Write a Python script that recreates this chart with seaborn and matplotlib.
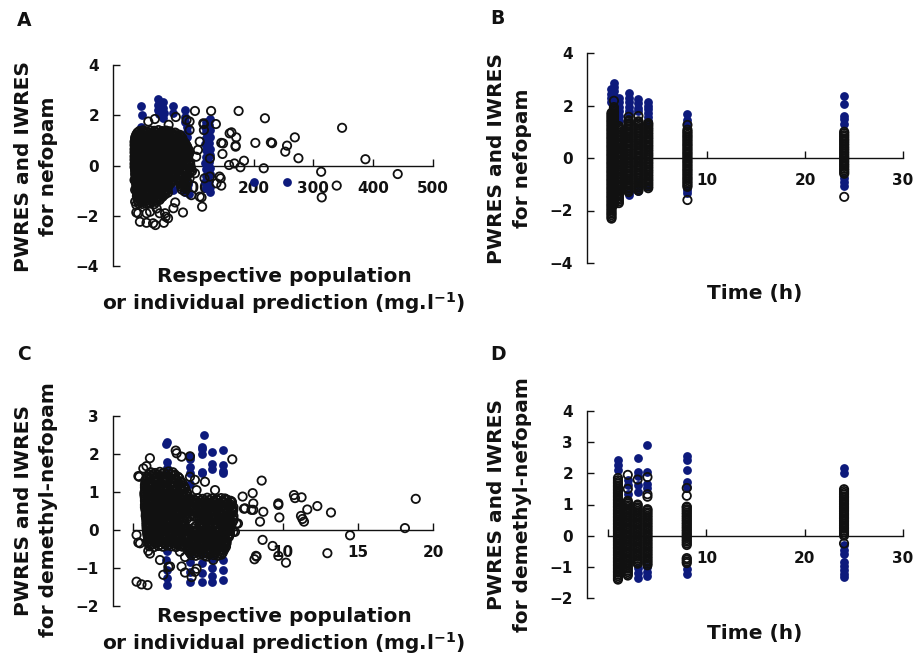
import matplotlib
matplotlib.use("Agg")
import matplotlib.pyplot as plt
import pandas as pd
import seaborn as sns

# ---------------------------------------------------------------------------
# Nefopam: weighted residuals against predicted concentration (mg/l)
# PWRES vs population prediction (filled navy), IWRES vs individual prediction (open)
# ---------------------------------------------------------------------------
nef_pred = [12, 13, 12, 10, 40, 41, 40, 42, 49, 48,
            50, 49, 66, 65, 85, 86, 85, 88, 89, 88,
            65, 62, 85, 88, 90, 92, 120, 119, 121, 120,
            119, 121, 120, 119, 121, 120, 119, 121, 127, 126,
            128, 127, 126, 128, 127, 126, 128, 127, 126, 128,
            127, 200, 256]
nef_pwres = [2.37, 2.01, 1.55, 1.30, 2.64, 2.42, 2.20, 2.05, 2.54, 2.30,
             2.10, 1.88, 2.37, 2.10, 2.21, 1.95, 1.72, 1.55, 1.35, 1.15,
             -0.98, -0.85, -1.05, -0.90, -0.75, -1.15, 1.75, 1.55, 1.35, 1.10,
             0.85, 0.60, 0.35, 0.10, -0.15, -0.40, -0.65, -0.90, 1.85, 1.62,
             1.40, 1.15, 0.90, 0.65, 0.40, 0.15, -0.10, -0.35, -0.60, -0.85,
             -1.05, -0.65, -0.65]

nef_ipred = [
    9, 15, 21, 28, 34, 41, 47, 54, 60,
    4, 8, 14, 20, 27, 33, 40, 46, 53, 59, 66, 72, 77,
    2, 6, 11, 17, 24, 30, 37, 43, 50, 56, 63, 69, 75, 81,
    1, 4, 9, 14, 21, 27, 34, 40, 47, 53, 60, 66, 72, 78, 84,
    1, 3, 7, 12, 18, 25, 31, 38, 44, 51, 57, 64, 70, 76, 82, 88,
    1, 4, 9, 15, 21, 28, 34, 41, 47, 54, 60, 67, 73, 79, 85, 90,
    1, 3, 7, 12, 18, 25, 31, 38, 44, 51, 57, 64, 70, 76, 82, 88, 93,
    1, 4, 9, 15, 21, 28, 34, 41, 47, 54, 60, 67, 73, 79, 85, 91,
    1, 3, 7, 12, 18, 25, 31, 38, 44, 51, 57, 64, 70, 76, 82, 89,
    1, 4, 9, 15, 21, 28, 34, 41, 47, 54, 60, 67, 73, 79, 86, 93,
    1, 3, 7, 12, 18, 25, 31, 38, 44, 51, 57, 64, 70, 77, 84, 95,
    2, 4, 9, 15, 21, 28, 34, 41, 47, 54, 60, 67, 73, 80, 97,
    2, 5, 11, 17, 24, 30, 37, 43, 50, 56, 63, 69, 76, 90,
    3, 7, 13, 20, 26, 33, 39, 46, 52, 59, 65, 78, 86,
    3, 5, 10, 16, 23, 29, 36, 42, 49, 55, 62, 75, 82, 89,
    4, 7, 13, 19, 26, 32, 39, 45, 52, 58, 78, 86,
    4, 6, 10, 16, 23, 29, 36, 42, 49, 55, 80, 87,
    5, 8, 13, 19, 26, 32, 39, 45, 52, 57,
    5, 10, 16, 22, 29, 35, 42, 48,
    6, 11, 17, 24, 30, 37, 43,
    8, 14, 21, 27, 34,
    102, 129, 175, 219, 348, 70, 35, 93, 117, 137,
    163, 171, 170, 269, 256, 253, 229, 231, 203, 146,
    148, 184, 159, 168, 178, 275, 387, 313, 441, 339,
    314, 217, 145, 146, 113, 114, 82, 69, 53, 50,
    36, 10, 4, 21, 43, 2, 38, 88, 93, 116,
    117, 160, 149, 170, 110, 107, 104, 127, 102, 93,
    118, 127, 143, 138, 110, 85, 96, 52, 7, 21,
    32, 57, 2, 1, 4, 27, 66, 24, 58]
nef_iwres = [
    1.37, 1.40, 1.36, 1.39, 1.38, 1.41, 1.37, 1.39, 1.36,
    1.23, 1.25, 1.22, 1.26, 1.24, 1.23, 1.25, 1.22, 1.26, 1.24, 1.23, 1.25, 1.22,
    1.10, 1.08, 1.11, 1.09, 1.07, 1.10, 1.08, 1.11, 1.09, 1.07, 1.10, 1.08, 1.11, 1.09,
    0.94, 0.96, 0.95, 0.93, 0.97, 0.95, 0.94, 0.96, 0.93, 0.95, 0.97, 0.94, 0.96, 0.95, 0.93,
    0.81, 0.79, 0.80, 0.82, 0.78, 0.81, 0.80, 0.79, 0.82, 0.80, 0.78, 0.81, 0.79, 0.80, 0.82, 0.79,
    0.65, 0.67, 0.66, 0.64, 0.68, 0.65, 0.66, 0.67, 0.64, 0.66, 0.68, 0.65, 0.67, 0.64, 0.66, 0.67,
    0.52, 0.50, 0.51, 0.53, 0.49, 0.51, 0.52, 0.50, 0.53, 0.51, 0.49, 0.52, 0.50, 0.51, 0.53, 0.50, 0.52,
    0.36, 0.38, 0.37, 0.35, 0.39, 0.36, 0.37, 0.38, 0.35, 0.37, 0.39, 0.36, 0.38, 0.35, 0.37, 0.38,
    0.23, 0.21, 0.22, 0.24, 0.20, 0.22, 0.23, 0.21, 0.24, 0.22, 0.20, 0.23, 0.21, 0.22, 0.24, 0.21,
    0.07, 0.09, 0.08, 0.06, 0.10, 0.07, 0.08, 0.09, 0.06, 0.08, 0.10, 0.07, 0.09, 0.06, 0.08, 0.09,
    -0.06, -0.08, -0.07, -0.05, -0.09, -0.06, -0.07, -0.08, -0.05, -0.07, -0.09, -0.06, -0.08, -0.05, -0.07, -0.08,
    -0.22, -0.20, -0.21, -0.23, -0.19, -0.22, -0.21, -0.20, -0.23, -0.21, -0.19, -0.22, -0.20, -0.21, -0.23,
    -0.35, -0.37, -0.36, -0.34, -0.38, -0.35, -0.36, -0.37, -0.34, -0.36, -0.38, -0.35, -0.37, -0.36,
    -0.51, -0.49, -0.50, -0.52, -0.48, -0.51, -0.50, -0.49, -0.52, -0.50, -0.48, -0.51, -0.49,
    -0.64, -0.66, -0.65, -0.63, -0.67, -0.64, -0.65, -0.66, -0.63, -0.65, -0.67, -0.64, -0.66, -0.65,
    -0.80, -0.78, -0.79, -0.81, -0.77, -0.80, -0.79, -0.78, -0.81, -0.79, -0.77, -0.80,
    -0.93, -0.95, -0.94, -0.92, -0.96, -0.93, -0.94, -0.95, -0.92, -0.94, -0.96, -0.93,
    -1.09, -1.07, -1.08, -1.10, -1.06, -1.09, -1.08, -1.07, -1.10, -1.08,
    -1.22, -1.24, -1.23, -1.21, -1.25, -1.22, -1.23, -1.24,
    -1.38, -1.36, -1.37, -1.39, -1.35, -1.38, -1.37,
    -1.51, -1.53, -1.52, -1.50, -1.54,
    2.17, 2.17, 2.17, 1.88, 1.50, 1.93, 1.85, 1.75, 1.65, 1.65,
    1.32, 1.12, 0.79, 1.12, 0.79, 0.55, 0.92, 0.89, 0.90, 0.90,
    0.46, 0.19, 0.02, 0.08, -0.07, 0.29, 0.25, -0.25, -0.34, -0.80,
    -1.27, -0.11, -0.51, -0.80, -1.27, -1.64, -1.87, -1.47, -2.04, -2.28,
    -2.37, -2.24, -1.87, -1.90, -1.90, -1.44, -1.71, 1.81, 1.41, 1.68,
    1.41, 1.28, 0.88, 0.75, 0.95, 0.62, 0.35, 0.28, -0.31, -0.51,
    -0.51, -0.44, -0.44, -0.71, -1.24, -1.04, -1.18, -1.90, -1.90, -2.28,
    -2.30, -2.10, -0.97, -0.58, -1.57, -1.84, -1.70, 1.75, 1.62]

# second set of IWRES observations in the crowded low-concentration range
nef_ipred_low = [
    6, 12, 18, 24, 31, 37, 44, 50, 57, 63, 69,
    3, 8, 13, 19, 26, 32, 39, 45, 52, 58, 65, 71, 78,
    2, 5, 10, 16, 22, 29, 35, 42, 48, 55, 61, 68, 74, 80,
    2, 6, 11, 17, 24, 30, 37, 43, 50, 56, 63, 69, 75, 81, 86,
    2, 5, 10, 15, 22, 28, 35, 41, 48, 54, 61, 67, 73, 79, 85, 89,
    2, 6, 12, 18, 24, 31, 37, 44, 50, 57, 63, 70, 76, 82, 88, 92,
    2, 5, 10, 15, 22, 28, 35, 41, 48, 54, 61, 67, 73, 79, 86, 91,
    2, 6, 12, 18, 24, 31, 37, 44, 50, 57, 63, 70, 76, 82, 88,
    2, 5, 10, 15, 22, 28, 35, 41, 48, 54, 61, 67, 73, 80, 87, 92,
    2, 6, 12, 18, 24, 31, 37, 44, 50, 57, 63, 70, 76, 82, 89, 94,
    2, 5, 10, 15, 22, 28, 35, 41, 48, 54, 61, 67, 74, 81, 88, 96,
    3, 7, 13, 19, 25, 32, 38, 45, 51, 58, 64, 70, 77, 86, 93,
    3, 6, 10, 16, 22, 29, 35, 42, 48, 55, 61, 67, 82, 88,
    4, 8, 14, 20, 27, 33, 40, 46, 53, 59, 64, 76, 83, 88,
    4, 6, 11, 17, 24, 30, 37, 43, 50, 56, 61, 77, 84, 89,
    5, 9, 15, 21, 28, 34, 41, 47, 53, 57, 79, 86,
    5, 7, 12, 18, 24, 31, 37, 44, 50, 56,
    6, 9, 14, 21, 27, 34, 40, 47, 52,
    7, 13, 19, 26, 32, 39, 45,
    8, 12, 18, 25, 31, 37]
nef_iwres_low = [
    1.31, 1.30, 1.32, 1.31, 1.29, 1.32, 1.30, 1.31, 1.33, 1.30, 1.31,
    1.16, 1.17, 1.15, 1.18, 1.16, 1.17, 1.15, 1.18, 1.16, 1.17, 1.15, 1.18, 1.16,
    1.02, 1.01, 1.03, 1.02, 1.00, 1.03, 1.01, 1.02, 1.04, 1.01, 1.02, 1.00, 1.03, 1.02,
    0.88, 0.87, 0.89, 0.86, 0.88, 0.87, 0.89, 0.86, 0.88, 0.87, 0.89, 0.86, 0.88, 0.87, 0.88,
    0.73, 0.72, 0.74, 0.73, 0.71, 0.74, 0.72, 0.73, 0.75, 0.72, 0.73, 0.71, 0.74, 0.72, 0.73, 0.74,
    0.58, 0.59, 0.57, 0.60, 0.58, 0.59, 0.57, 0.60, 0.58, 0.59, 0.57, 0.60, 0.58, 0.59, 0.57, 0.60,
    0.44, 0.43, 0.45, 0.44, 0.42, 0.45, 0.43, 0.44, 0.46, 0.43, 0.44, 0.42, 0.45, 0.43, 0.44, 0.45,
    0.29, 0.30, 0.28, 0.31, 0.29, 0.30, 0.28, 0.31, 0.29, 0.30, 0.28, 0.31, 0.29, 0.30, 0.29,
    0.15, 0.14, 0.16, 0.15, 0.13, 0.16, 0.14, 0.15, 0.17, 0.14, 0.15, 0.13, 0.16, 0.14, 0.15, 0.16,
    0.00, 0.01, -0.01, 0.02, 0.00, 0.01, -0.01, 0.02, 0.00, 0.01, -0.01, 0.02, 0.00, 0.01, -0.01, 0.01,
    -0.14, -0.13, -0.15, -0.14, -0.12, -0.15, -0.13, -0.14, -0.16, -0.13, -0.14, -0.12, -0.15, -0.13, -0.14, -0.15,
    -0.28, -0.29, -0.27, -0.30, -0.28, -0.29, -0.27, -0.30, -0.28, -0.29, -0.27, -0.30, -0.28, -0.29, -0.28,
    -0.43, -0.42, -0.44, -0.43, -0.41, -0.44, -0.42, -0.43, -0.45, -0.42, -0.43, -0.41, -0.44, -0.43,
    -0.57, -0.58, -0.56, -0.59, -0.57, -0.58, -0.56, -0.59, -0.57, -0.58, -0.56, -0.59, -0.57, -0.58,
    -0.72, -0.71, -0.73, -0.72, -0.70, -0.73, -0.71, -0.72, -0.74, -0.71, -0.72, -0.70, -0.73, -0.72,
    -0.86, -0.87, -0.85, -0.88, -0.86, -0.87, -0.85, -0.88, -0.86, -0.87, -0.85, -0.87,
    -1.01, -1.00, -1.02, -1.01, -0.99, -1.02, -1.00, -1.01, -1.03, -1.00,
    -1.15, -1.16, -1.14, -1.17, -1.15, -1.16, -1.14, -1.17, -1.15,
    -1.30, -1.29, -1.31, -1.30, -1.28, -1.31, -1.29,
    -1.44, -1.45, -1.43, -1.46, -1.44, -1.45]

# ---------------------------------------------------------------------------
# Nefopam: weighted residuals against sampling time (h)
# ---------------------------------------------------------------------------
nef_times = [0.25, 0.5, 1, 2, 3, 4, 8, 24]
nef_pw_t025 = [2.62, 2.45, 2.30, 2.12]
nef_pw_t05 = [2.85, 2.72, 2.55, 2.38, 2.22, 2.05]
nef_pw_t1 = [2.28, 2.12, 1.95, 1.78, 1.60, 1.42]
nef_pw_t2 = [2.47, 2.30, 2.12, 1.95, 1.80, 1.68, -1.30, -1.40]
nef_pw_t3 = [2.25, 2.08, 1.92, 1.78, -0.95, -1.10, -1.27]
nef_pw_t4 = [2.15, 2.00, 1.85, 1.70, 1.55, 1.42, -1.05]
nef_pw_t8 = [1.68, 1.45, 1.28, -1.20, -1.32]
nef_pw_t24 = [2.38, 2.05, 1.60, 1.48, 1.30, -0.78, -0.92, -1.05]

nef_iw_t025 = [-2.31, -2.25, -2.18, -2.12, -2.06, -1.99, -1.93, -1.86, -1.80, -1.74,
               -1.67, -1.61, -1.54, -1.48, -1.42, -1.35, -1.29, -1.22, -1.16, -1.10,
               -1.03, -0.97, -0.90, -0.84, -0.78, -0.71, -0.65, -0.58, -0.52, -0.46,
               -0.39, -0.33, -0.26, -0.20, -0.14, -0.07, -0.01, 0.06, 0.12, 0.18,
               0.25, 0.31, 0.38, 0.44, 0.50, 0.57, 0.63, 0.70, 0.76, 0.82,
               0.89, 0.95, 1.02, 1.08, 1.14, 1.21, 1.27, 1.34, 1.40, 1.46,
               1.53, 1.59, 1.66, 1.72]
nef_iw_t05 = [-1.77, -1.71, -1.64, -1.58, -1.51, -1.45, -1.39, -1.32, -1.26, -1.19,
              -1.13, -1.07, -1.00, -0.94, -0.87, -0.81, -0.75, -0.68, -0.62, -0.55,
              -0.49, -0.43, -0.36, -0.30, -0.23, -0.17, -0.11, -0.04, 0.02, 0.09,
              0.15, 0.21, 0.28, 0.34, 0.41, 0.47, 0.53, 0.60, 0.66, 0.73,
              0.79, 0.85, 0.92, 0.98, 1.05, 1.11, 1.17, 1.24, 1.30, 1.37,
              1.43, 1.49, 1.56, 1.62, 1.69, 1.75, 1.81, 1.88, 1.94, 2.18]
nef_iw_t1 = [-1.72, -1.66, -1.59, -1.53, -1.46, -1.40, -1.34, -1.27, -1.21, -1.14,
             -1.08, -1.02, -0.95, -0.89, -0.82, -0.76, -0.70, -0.63, -0.57, -0.50,
             -0.44, -0.38, -0.31, -0.25, -0.18, -0.12, -0.06, 0.01, 0.07, 0.14,
             0.20, 0.26, 0.33, 0.39, 0.46, 0.52, 0.58, 0.65, 0.71, 0.78,
             0.84, 0.90, 0.97, 1.03, 1.10, 1.16, 1.22]
nef_iw_t2 = [-1.30, -1.24, -1.17, -1.11, -1.04, -0.98, -0.92, -0.85, -0.79, -0.72,
             -0.66, -0.60, -0.53, -0.47, -0.40, -0.34, -0.28, -0.21, -0.15, -0.08,
             -0.02, 0.04, 0.11, 0.17, 0.24, 0.30, 0.36, 0.43, 0.49, 0.56,
             0.62, 0.68, 0.75, 0.81, 0.88, 0.94, 1.00, 1.07, 1.13, 1.20,
             1.26, 1.32, 1.39, 1.44, 1.57]
nef_iw_t3 = [-1.25, -1.19, -1.12, -1.06, -0.99, -0.93, -0.87, -0.80, -0.74, -0.67,
             -0.61, -0.55, -0.48, -0.42, -0.35, -0.29, -0.23, -0.16, -0.10, -0.03,
             0.03, 0.09, 0.16, 0.22, 0.29, 0.35, 0.41, 0.48, 0.54, 0.61,
             0.67, 0.73, 0.80, 0.86, 0.93, 0.99, 1.05, 1.12, 1.18, 1.25,
             1.31, 1.37, 1.40, 1.60]
nef_iw_t4 = [-1.15, -1.09, -1.02, -0.96, -0.89, -0.83, -0.77, -0.70, -0.64, -0.57,
             -0.51, -0.45, -0.38, -0.32, -0.25, -0.19, -0.13, -0.06, 0.00, 0.07,
             0.13, 0.19, 0.26, 0.32, 0.39, 0.45, 0.51, 0.58, 0.64, 0.71,
             0.77, 0.83, 0.90, 0.96, 1.03, 1.09, 1.15, 1.22, 1.28, 1.33]
nef_iw_t8 = [-1.60, -1.10, -1.04, -0.97, -0.91, -0.84, -0.78, -0.72, -0.65, -0.59,
             -0.52, -0.46, -0.40, -0.33, -0.27, -0.20, -0.14, -0.08, -0.01, 0.05,
             0.12, 0.18, 0.24, 0.31, 0.37, 0.44, 0.50, 0.56, 0.63, 0.69,
             0.76, 0.82, 0.88, 0.95, 1.01, 1.08, 1.26]
nef_iw_t24 = [-1.48, -0.60, -0.54, -0.47, -0.41, -0.34, -0.28, -0.22, -0.15, -0.09,
              -0.02, 0.04, 0.10, 0.17, 0.23, 0.30, 0.36, 0.42, 0.49, 0.55,
              0.62, 0.68, 0.74, 0.81, 0.87, 0.94, 1.00]

# ---------------------------------------------------------------------------
# Demethyl-nefopam: weighted residuals against predicted concentration (mg/l)
# ---------------------------------------------------------------------------
dmn_pred = [2.24, 2.22, 2.24, 2.26, 2.24, 2.24, 2.22, 2.24, 2.26, 2.24,
            3.80, 3.78, 3.80, 3.82, 3.80, 3.80, 3.78, 3.80, 3.82,
            4.75, 4.58, 4.60, 4.58, 4.60, 4.62, 4.60, 4.62, 4.60, 4.62,
            5.28, 5.26, 5.30, 5.28, 5.30, 5.28, 5.26, 5.30,
            6.00, 6.02, 5.98, 6.00, 6.00, 6.02, 5.98, 6.00, 6.02]
dmn_pwres = [2.32, 2.26, 1.80, 1.62, 1.45, -0.55, -0.79, -1.05, -1.27, -1.45,
             1.95, 1.88, 1.66, 1.50, 1.22, -0.62, -0.85, -1.10, -1.36,
             2.50, 2.19, 2.12, 1.99, 1.53, 1.49, -0.62, -0.88, -1.14, -1.36,
             2.06, 1.75, 1.60, -0.50, -0.75, -1.00, -1.20, -1.36,
             2.10, 1.71, 1.55, 1.49, -0.10, -0.44, -0.79, -1.05, -1.32]

dmn_ipred = [
    1.20, 1.48, 1.79, 2.08, 2.37, 2.66,
    0.95, 1.24, 1.55, 1.83, 2.14, 2.43, 2.73, 3.01,
    0.85, 1.10, 1.41, 1.69, 2.00, 2.29, 2.59, 2.88, 3.18,
    0.80, 1.02, 1.30, 1.61, 1.89, 2.20, 2.49, 2.79, 3.08, 3.38,
    0.82, 1.12, 1.40, 1.71, 1.99, 2.30, 2.58, 2.89, 3.17, 3.48,
    0.76, 1.00, 1.29, 1.60, 1.88, 2.19, 2.47, 2.78, 3.06, 3.37, 3.63,
    0.80, 1.09, 1.40, 1.68, 1.99, 2.27, 2.58, 2.86, 3.17, 3.45, 3.72, 4.05, 4.34, 4.66, 4.95, 5.27, 5.56, 5.88, 6.25,
    0.82, 1.02, 1.31, 1.62, 1.90, 2.21, 2.49, 2.80, 3.08, 3.39, 3.67, 3.98, 4.26, 4.57, 4.85, 5.16, 5.44, 5.75, 6.03, 6.34, 6.60,
    0.80, 1.11, 1.39, 1.70, 1.98, 2.29, 2.57, 2.88, 3.16, 3.47, 3.75, 4.06, 4.34, 4.65, 4.93, 5.24, 5.52, 5.83, 6.11, 6.42, 6.70,
    0.86, 1.03, 1.32, 1.61, 1.91, 2.20, 2.50, 2.79, 3.09, 3.38, 3.68, 3.97, 4.27, 4.56, 4.86, 5.15, 5.45, 5.74, 6.04, 6.33, 6.66,
    0.85, 1.12, 1.42, 1.71, 2.01, 2.30, 2.60, 2.89, 3.19, 3.48, 3.78, 4.07, 4.37, 4.66, 4.96, 5.25, 5.55, 5.84, 6.14, 6.43, 6.70,
    0.90, 1.05, 1.34, 1.64, 1.93, 2.23, 2.52, 2.82, 3.11, 3.40, 4.42, 4.71, 5.01, 5.30, 5.60, 5.89, 6.19, 6.48, 6.72,
    0.90, 1.14, 1.43, 1.73, 2.02, 2.32, 2.61, 2.91, 3.20, 3.42, 4.45, 4.75, 5.04, 5.34, 5.63, 5.93, 6.22, 6.55,
    0.92, 1.07, 1.36, 1.66, 1.95, 2.25, 2.54, 2.84, 3.13, 3.43, 3.72, 4.02, 4.31, 4.61, 4.90, 5.20, 5.49, 5.79, 6.08, 6.38, 6.50,
    0.95, 1.16, 1.45, 1.75, 2.04, 2.34, 2.63, 2.93, 3.22, 3.52, 3.81, 4.11, 4.40, 4.70, 4.99, 5.29, 5.58, 5.88, 6.17, 6.47,
    1.00, 1.09, 1.38, 1.68, 1.97, 2.27, 2.56, 2.86, 3.15, 3.45, 3.74, 4.04, 4.33, 4.63, 4.92, 5.22, 5.51, 5.81, 6.10, 6.40,
    1.02, 1.18, 1.47, 1.77, 2.06, 2.36, 2.65, 2.95, 3.24, 3.54, 3.83, 4.13, 4.42, 4.72, 5.01, 5.31, 5.60, 5.90, 6.22,
    1.10, 1.40, 1.69, 1.99, 2.28, 2.58, 2.87, 3.17, 3.30, 3.72, 4.01, 4.31, 4.60, 4.90, 5.19, 5.49, 5.78, 6.08, 6.20,
    3.70, 3.98, 4.27, 4.57, 4.86, 5.16, 5.45, 5.75, 6.05,
    3.90, 4.18, 4.47, 4.77, 5.06, 5.36, 5.65, 5.90,
    0.42, 1.13, 0.90, 2.85, 3.24, 3.80, 6.62, 8.58, 7.31, 7.98,
    10.73, 11.24, 9.69, 9.69, 8.69, 12.29, 13.20, 11.62, 11.20, 11.30,
    11.40, 9.76, 8.47, 8.02, 7.40, 7.00, 18.85, 18.13, 14.47, 8.64,
    9.31, 9.69, 10.20, 12.96, 8.20, 8.10, 6.80, 6.13, 2.02, 2.47,
    0.24, 0.57, 0.97, 1.02, 0.36, 1.80, 3.24, 3.47, 3.91, 4.24,
    5.35, 4.91, 2.91, 0.69, 4.13, 4.80, 5.47, 6.13, 6.69, 6.91,
    6.69, 6.24, 3.47, 4.13, 2.36, 1.13, 0.47, 0.24, 3.13, 4.24,
    5.58, 8.02, 7.47, 8.24, 10.80, 7.90, 0.36, 3.80, 4.24, 6.58]
dmn_iwres = [
    1.52, 1.50, 1.53, 1.51, 1.54, 1.52,
    1.41, 1.43, 1.40, 1.42, 1.39, 1.41, 1.43, 1.40,
    1.29, 1.27, 1.30, 1.28, 1.31, 1.29, 1.27, 1.30, 1.28,
    1.18, 1.20, 1.17, 1.19, 1.16, 1.18, 1.20, 1.17, 1.19, 1.16,
    1.06, 1.04, 1.07, 1.05, 1.08, 1.06, 1.04, 1.07, 1.05, 1.08,
    0.95, 0.97, 0.94, 0.96, 0.93, 0.95, 0.97, 0.94, 0.96, 0.93, 0.95,
    0.83, 0.81, 0.84, 0.82, 0.85, 0.83, 0.81, 0.84, 0.82, 0.85, 0.83, 0.81, 0.84, 0.82, 0.85, 0.83, 0.81, 0.84, 0.80,
    0.72, 0.74, 0.71, 0.73, 0.70, 0.72, 0.74, 0.71, 0.73, 0.70, 0.72, 0.74, 0.71, 0.73, 0.70, 0.72, 0.74, 0.71, 0.73, 0.70, 0.72,
    0.60, 0.58, 0.61, 0.59, 0.62, 0.60, 0.58, 0.61, 0.59, 0.62, 0.60, 0.58, 0.61, 0.59, 0.62, 0.60, 0.58, 0.61, 0.59, 0.62, 0.60,
    0.49, 0.51, 0.48, 0.50, 0.47, 0.49, 0.51, 0.48, 0.50, 0.47, 0.49, 0.51, 0.48, 0.50, 0.47, 0.49, 0.51, 0.48, 0.50, 0.47, 0.49,
    0.37, 0.35, 0.38, 0.36, 0.39, 0.37, 0.35, 0.38, 0.36, 0.39, 0.37, 0.35, 0.38, 0.36, 0.39, 0.37, 0.35, 0.38, 0.36, 0.39, 0.37,
    0.26, 0.28, 0.25, 0.27, 0.24, 0.26, 0.28, 0.25, 0.27, 0.24, 0.26, 0.28, 0.25, 0.27, 0.24, 0.26, 0.28, 0.25, 0.27,
    0.14, 0.12, 0.15, 0.13, 0.16, 0.14, 0.12, 0.15, 0.13, 0.16, 0.14, 0.12, 0.15, 0.13, 0.16, 0.14, 0.12, 0.15,
    0.03, 0.05, 0.02, 0.04, 0.01, 0.03, 0.05, 0.02, 0.04, 0.01, 0.03, 0.05, 0.02, 0.04, 0.01, 0.03, 0.05, 0.02, 0.04, 0.01, 0.03,
    -0.09, -0.07, -0.10, -0.08, -0.11, -0.09, -0.07, -0.10, -0.08, -0.11, -0.09, -0.07, -0.10, -0.08, -0.11, -0.09, -0.07, -0.10, -0.08, -0.11,
    -0.20, -0.22, -0.19, -0.21, -0.18, -0.20, -0.22, -0.19, -0.21, -0.18, -0.20, -0.22, -0.19, -0.21, -0.18, -0.20, -0.22, -0.19, -0.21, -0.18,
    -0.32, -0.30, -0.33, -0.31, -0.34, -0.32, -0.30, -0.33, -0.31, -0.34, -0.32, -0.30, -0.33, -0.31, -0.34, -0.32, -0.30, -0.33, -0.31,
    -0.43, -0.45, -0.42, -0.44, -0.41, -0.43, -0.45, -0.42, -0.44, -0.41, -0.43, -0.45, -0.42, -0.44, -0.41, -0.43, -0.45, -0.42, -0.44,
    -0.55, -0.53, -0.56, -0.54, -0.57, -0.55, -0.53, -0.56, -0.54,
    -0.66, -0.68, -0.65, -0.67, -0.64, -0.66, -0.68, -0.65,
    1.40, 1.89, 1.68, 2.09, 1.93, 1.94, 1.86, 1.30, 0.88, 0.97,
    0.92, 0.86, 0.70, 0.66, 0.48, 0.63, 0.46, 0.54, 0.37, 0.29,
    0.22, 0.33, 0.22, 0.53, 0.56, 0.17, 0.82, 0.05, -0.14, -0.26,
    -0.42, -0.68, -0.86, -0.61, -0.68, -0.77, -0.05, -0.35, -1.18, -0.96,
    -1.36, -1.43, -1.45, -0.55, -0.33, -0.79, -0.96, -1.12, -1.24, -1.02,
    -0.79, -0.70, 2.02, 1.62, 1.32, 1.27, 1.05, 0.83, 0.53, 0.17,
    -0.05, -0.35, -0.71, -1.10, -0.97, -0.62, -0.35, -0.13, -0.57, -0.48,
    -0.53, 0.70, 0.57, -0.70, 0.84, 0.53, 1.42, 1.40, 1.05, 0.75]

# second set of IWRES observations in the crowded low-concentration range
dmn_ipred_low = [
    1.08, 1.35, 1.64, 1.93, 2.22, 2.52, 2.80,
    0.90, 1.10, 1.40, 1.69, 1.99, 2.28, 2.58, 2.87, 3.10,
    0.82, 0.98, 1.27, 1.56, 1.85, 2.14, 2.44, 2.73, 3.03, 3.30,
    0.80, 0.92, 1.17, 1.46, 1.76, 2.05, 2.35, 2.64, 2.94, 3.23, 3.45,
    0.78, 0.97, 1.26, 1.55, 1.85, 2.14, 2.44, 2.73, 3.03, 3.32, 3.58,
    0.78, 0.95, 1.24, 1.54, 1.83, 2.13, 2.42, 2.72, 3.01, 3.31, 3.60,
    0.80, 0.96, 1.25, 1.54, 1.84, 2.13, 2.43, 2.72, 3.02, 3.31, 3.60, 3.90, 4.19, 4.49, 4.78, 5.08, 5.37, 5.67, 5.96, 6.26, 6.50,
    0.80, 0.97, 1.26, 1.55, 1.85, 2.14, 2.44, 2.73, 3.03, 3.32, 3.62, 3.91, 4.21, 4.50, 4.80, 5.09, 5.39, 5.68, 5.98, 6.27, 6.57,
    0.83, 0.96, 1.25, 1.55, 1.84, 2.14, 2.43, 2.73, 3.02, 3.32, 3.61, 3.91, 4.20, 4.50, 4.79, 5.09, 5.38, 5.68, 5.97, 6.27, 6.56,
    0.86, 0.98, 1.27, 1.57, 1.86, 2.16, 2.45, 2.75, 3.04, 3.34, 3.63, 3.93, 4.22, 4.52, 4.81, 5.11, 5.40, 5.70, 5.99, 6.29, 6.58,
    0.88, 0.97, 1.27, 1.56, 1.86, 2.15, 2.45, 2.74, 3.04, 3.33, 3.62, 4.30, 4.57, 4.86, 5.16, 5.45, 5.75, 6.04, 6.34, 6.62,
    0.90, 0.99, 1.29, 1.58, 1.88, 2.17, 2.47, 2.76, 3.06, 3.30, 4.58, 4.88, 5.17, 5.47, 5.76, 6.06, 6.35, 6.63,
    0.91, 1.00, 1.29, 1.59, 1.88, 2.18, 2.47, 2.77, 3.06, 3.36, 3.57, 4.17, 4.46, 4.76, 5.05, 5.35, 5.64, 5.94, 6.23, 6.52,
    0.93, 1.01, 1.31, 1.60, 1.90, 2.19, 2.49, 2.78, 3.08, 3.37, 3.67, 3.96, 4.26, 4.55, 4.85, 5.14, 5.44, 5.73, 6.03, 6.32, 6.48,
    0.97, 1.02, 1.31, 1.61, 1.90, 2.20, 2.49, 2.79, 3.08, 3.38, 3.67, 3.97, 4.26, 4.56, 4.85, 5.15, 5.44, 5.74, 6.03, 6.33,
    1.01, 1.24, 1.53, 1.83, 2.12, 2.42, 2.71, 3.01, 3.30, 3.60, 3.89, 4.19, 4.48, 4.78, 5.07, 5.37, 5.66, 5.96, 6.25,
    1.06, 1.25, 1.55, 1.84, 2.14, 2.43, 2.73, 3.02, 3.25, 3.78, 4.07, 4.37, 4.66, 4.96, 5.25, 5.55, 5.84, 6.12,
    3.72, 3.84, 4.13, 4.43, 4.72, 5.02, 5.31, 5.61, 5.90, 6.12,
    3.80, 4.05, 4.34, 4.64, 4.93, 5.23, 5.52, 5.80, 5.98]
dmn_iwres_low = [
    1.46, 1.47, 1.45, 1.48, 1.46, 1.47, 1.46,
    1.35, 1.34, 1.36, 1.35, 1.33, 1.36, 1.34, 1.35, 1.36,
    1.23, 1.24, 1.22, 1.25, 1.23, 1.24, 1.22, 1.25, 1.23, 1.24,
    1.12, 1.11, 1.13, 1.12, 1.10, 1.13, 1.11, 1.12, 1.14, 1.11, 1.12,
    1.00, 1.01, 0.99, 1.02, 1.00, 1.01, 0.99, 1.02, 1.00, 1.01, 1.00,
    0.89, 0.88, 0.90, 0.89, 0.87, 0.90, 0.88, 0.89, 0.91, 0.88, 0.89,
    0.77, 0.78, 0.76, 0.79, 0.77, 0.78, 0.76, 0.79, 0.77, 0.78, 0.76, 0.79, 0.77, 0.78, 0.76, 0.79, 0.77, 0.78, 0.76, 0.79, 0.77,
    0.66, 0.65, 0.67, 0.66, 0.64, 0.67, 0.65, 0.66, 0.68, 0.65, 0.66, 0.64, 0.67, 0.65, 0.66, 0.68, 0.65, 0.66, 0.64, 0.67, 0.66,
    0.54, 0.55, 0.53, 0.56, 0.54, 0.55, 0.53, 0.56, 0.54, 0.55, 0.53, 0.56, 0.54, 0.55, 0.53, 0.56, 0.54, 0.55, 0.53, 0.56, 0.54,
    0.43, 0.42, 0.44, 0.43, 0.41, 0.44, 0.42, 0.43, 0.45, 0.42, 0.43, 0.41, 0.44, 0.42, 0.43, 0.45, 0.42, 0.43, 0.41, 0.44, 0.43,
    0.31, 0.32, 0.30, 0.33, 0.31, 0.32, 0.30, 0.33, 0.31, 0.32, 0.30, 0.33, 0.31, 0.32, 0.30, 0.33, 0.31, 0.32, 0.30, 0.32,
    0.20, 0.19, 0.21, 0.20, 0.18, 0.21, 0.19, 0.20, 0.22, 0.19, 0.20, 0.18, 0.21, 0.19, 0.20, 0.22, 0.19, 0.20,
    0.08, 0.09, 0.07, 0.10, 0.08, 0.09, 0.07, 0.10, 0.08, 0.09, 0.07, 0.10, 0.08, 0.09, 0.07, 0.10, 0.08, 0.09, 0.07, 0.09,
    -0.03, -0.02, -0.04, -0.03, -0.01, -0.04, -0.02, -0.03, -0.05, -0.02, -0.03, -0.01, -0.04, -0.02, -0.03, -0.05, -0.02, -0.03, -0.01, -0.04, -0.03,
    -0.14, -0.15, -0.13, -0.16, -0.14, -0.15, -0.13, -0.16, -0.14, -0.15, -0.13, -0.16, -0.14, -0.15, -0.13, -0.16, -0.14, -0.15, -0.13, -0.15,
    -0.26, -0.25, -0.27, -0.26, -0.24, -0.27, -0.25, -0.26, -0.28, -0.25, -0.26, -0.24, -0.27, -0.25, -0.26, -0.28, -0.25, -0.26, -0.27,
    -0.37, -0.38, -0.36, -0.39, -0.37, -0.38, -0.36, -0.39, -0.37, -0.38, -0.36, -0.39, -0.37, -0.38, -0.36, -0.39, -0.37, -0.38,
    -0.49, -0.48, -0.50, -0.49, -0.47, -0.50, -0.48, -0.49, -0.51, -0.49,
    -0.60, -0.61, -0.59, -0.62, -0.60, -0.61, -0.59, -0.62, -0.60]

# ---------------------------------------------------------------------------
# Demethyl-nefopam: weighted residuals against sampling time (h)
# ---------------------------------------------------------------------------
dmn_times = [1, 2, 3, 4, 8, 24]
dmn_pw_t1 = [2.42, 2.28, 2.12]
dmn_pw_t2 = [1.80, 1.62, 1.35]
dmn_pw_t3 = [2.48, 2.05, 1.90, 1.62, 1.40, -1.05, -1.20, -1.37]
dmn_pw_t4 = [2.90, 2.05, 1.65, 1.52, -1.00, -1.15, -1.30]
dmn_pw_t8 = [2.55, 2.42, 2.10, 1.72, 1.57, -1.08, -1.22]
dmn_pw_t24 = [2.18, 2.00, -0.30, -0.45, -0.60, -0.85, -0.97, -1.10, -1.22, -1.32]

dmn_iw_t1 = [-1.41, -1.36, -1.30, -1.25, -1.19, -1.14, -1.08, -1.03, -0.97, -0.92,
             -0.86, -0.81, -0.75, -0.70, -0.64, -0.59, -0.53, -0.48, -0.42, -0.37,
             -0.31, -0.26, -0.20, -0.15, -0.09, -0.04, 0.02, 0.07, 0.13, 0.18,
             0.24, 0.29, 0.35, 0.40, 0.46, 0.51, 0.57, 0.62, 0.68, 0.73,
             0.79, 0.84, 0.90, 0.95, 1.01, 1.06, 1.12, 1.17, 1.23, 1.28,
             1.34, 1.39, 1.45, 1.50, 1.56, 1.61, 1.67, 1.72, 1.78, 1.85]
dmn_iw_t2 = [-1.28, -1.23, -1.17, -1.12, -1.06, -1.01, -0.95, -0.90, -0.84, -0.79,
             -0.73, -0.68, -0.62, -0.57, -0.51, -0.46, -0.40, -0.35, -0.29, -0.24,
             -0.18, -0.13, -0.07, -0.02, 0.04, 0.09, 0.15, 0.20, 0.26, 0.31,
             0.37, 0.42, 0.48, 0.53, 0.59, 0.64, 0.70, 0.75, 0.81, 0.86,
             0.92, 0.97, 1.03, 1.08, 1.12, 1.50, 1.95]
dmn_iw_t3 = [-0.90, -0.85, -0.79, -0.74, -0.68, -0.63, -0.57, -0.52, -0.46, -0.41,
             -0.35, -0.30, -0.24, -0.19, -0.13, -0.08, -0.02, 0.03, 0.09, 0.14,
             0.20, 0.25, 0.31, 0.36, 0.42, 0.47, 0.53, 0.58, 0.64, 0.69,
             0.75, 0.80, 0.86, 0.91, 0.97, 1.00, 1.80]
dmn_iw_t4 = [-0.95, -0.90, -0.84, -0.79, -0.73, -0.68, -0.62, -0.57, -0.51, -0.46,
             -0.40, -0.35, -0.29, -0.24, -0.18, -0.13, -0.07, -0.02, 0.04, 0.09,
             0.15, 0.20, 0.26, 0.31, 0.37, 0.42, 0.48, 0.53, 0.59, 0.64,
             0.70, 0.75, 0.81, 0.85, 1.25, 1.33, 1.88]
dmn_iw_t8 = [-0.88, -0.83, -0.77, -0.72, -0.30, -0.25, -0.19, -0.14, -0.08, -0.03,
             0.03, 0.08, 0.14, 0.19, 0.25, 0.30, 0.36, 0.41, 0.47, 0.52,
             0.58, 0.63, 0.69, 0.74, 0.80, 0.85, 0.91, 0.93, 1.28, 1.53]
dmn_iw_t24 = [-0.25, 0.00, 0.05, 0.11, 0.16, 0.22, 0.27, 0.33, 0.38, 0.44,
              0.49, 0.55, 0.60, 0.66, 0.71, 0.77, 0.82, 0.88, 0.93, 0.99,
              1.04, 1.10, 1.15, 1.21, 1.26, 1.32, 1.37, 1.43, 1.49]

# ---------------------------------------------------------------------------
# Styling
# ---------------------------------------------------------------------------
sns.set_theme(style="white")
plt.rcParams["font.family"] = ["DejaVu Sans"]
plt.rcParams["font.weight"] = "bold"
plt.rcParams["mathtext.default"] = "regular"

NAVY = "#0d1a7c"
INK = "#111111"
W, H = 917, 656
TICK_FS = 11
LABEL_FS = 14.5

fig = plt.figure(figsize=(W / 100, H / 100), dpi=100)
fig.patch.set_facecolor("white")


def box(left, top, right, bottom):
    return [left / W, 1 - bottom / H, (right - left) / W, (bottom - top) / H]


def long_frame(times, groups, name):
    rows = [(t, v) for t, vals in zip(times, groups) for v in vals]
    return pd.DataFrame(rows, columns=["time", name])


def style_axes(ax, xlim, ylim, xticks, xticklabels, yticks):
    ax.set_xlim(*xlim)
    ax.set_ylim(*ylim)
    ax.set_facecolor("white")
    ax.grid(False)
    for side in ("top", "right"):
        ax.spines[side].set_visible(False)
    ax.spines["bottom"].set_position(("data", 0))
    ax.spines["bottom"].set_bounds(0, xticks[-1])
    for side in ("bottom", "left"):
        ax.spines[side].set_color(INK)
        ax.spines[side].set_linewidth(1.0)
    ax.set_xticks(xticks, xticklabels)
    ax.set_yticks(yticks)
    ax.tick_params(axis="x", bottom=True, direction="in", length=5, width=1.0,
                   pad=11, labelsize=TICK_FS, colors=INK)
    ax.tick_params(axis="y", left=True, direction="in", length=5, width=1.0,
                   pad=10, labelsize=TICK_FS, colors=INK)
    for lab in ax.get_xticklabels() + ax.get_yticklabels():
        lab.set_fontweight("bold")
    ax.set_xlabel("")
    ax.set_ylabel("")


def draw(ax, pop_df, ind_df, x, pop_y, ind_y):
    sns.scatterplot(data=pop_df, x=x, y=pop_y, ax=ax, color=NAVY, s=40,
                    linewidth=0, zorder=3, legend=False)
    sns.scatterplot(data=ind_df, x=x, y=ind_y, ax=ax, facecolors="none",
                    edgecolor=INK, s=36, linewidth=1.3, zorder=4, legend=False)


# Panel A
ax_a = fig.add_axes(box(113, 65, 433, 266))
draw(ax_a,
     pd.DataFrame({"pred": nef_pred, "res": nef_pwres}),
     pd.DataFrame({"pred": nef_ipred + nef_ipred_low,
                   "res": nef_iwres + nef_iwres_low}),
     "pred", "res", "res")
style_axes(ax_a, (-35, 500), (-4, 4), [0, 100, 200, 300, 400, 500],
           ["", "100", "200", "300", "400", "500"], [-4, -2, 0, 2, 4])

# Panel B
ax_b = fig.add_axes(box(587, 53, 903, 263))
draw(ax_b,
     long_frame(nef_times, [nef_pw_t025, nef_pw_t05, nef_pw_t1, nef_pw_t2,
                            nef_pw_t3, nef_pw_t4, nef_pw_t8, nef_pw_t24], "res"),
     long_frame(nef_times, [nef_iw_t025, nef_iw_t05, nef_iw_t1, nef_iw_t2,
                            nef_iw_t3, nef_iw_t4, nef_iw_t8, nef_iw_t24], "res"),
     "time", "res", "res")
style_axes(ax_b, (-2.25, 30), (-4, 4), [0, 10, 20, 30], ["", "10", "20", "30"],
           [-4, -2, 0, 2, 4])

# Panel C
ax_c = fig.add_axes(box(113, 416, 433, 606))
draw(ax_c,
     pd.DataFrame({"pred": dmn_pred, "res": dmn_pwres}),
     pd.DataFrame({"pred": dmn_ipred + dmn_ipred_low,
                   "res": dmn_iwres + dmn_iwres_low}),
     "pred", "res", "res")
style_axes(ax_c, (-1.33, 20), (-2, 3), [0, 5, 10, 15, 20],
           ["", "5", "10", "15", "20"], [-2, -1, 0, 1, 2, 3])

# Panel D
ax_d = fig.add_axes(box(587, 411, 903, 598))
draw(ax_d,
     long_frame(dmn_times, [dmn_pw_t1, dmn_pw_t2, dmn_pw_t3, dmn_pw_t4,
                            dmn_pw_t8, dmn_pw_t24], "res"),
     long_frame(dmn_times, [dmn_iw_t1, dmn_iw_t2, dmn_iw_t3, dmn_iw_t4,
                            dmn_iw_t8, dmn_iw_t24], "res"),
     "time", "res", "res")
style_axes(ax_d, (-2.15, 30), (-2, 4), [0, 10, 20, 30], ["", "10", "20", "30"],
           [-2, -1, 0, 1, 2, 3, 4])


def put(px, py, s, size=LABEL_FS, rot=0):
    fig.text(px / W, 1 - py / H, s, ha="center", va="center", rotation=rot,
             fontsize=size, fontweight="bold", color=INK)


# Panel letters
put(24, 20, "A", 13.5)
put(497, 18, "B", 13.5)
put(24, 355, "C", 13.5)
put(498, 355, "D", 13.5)

# Axis titles
put(24, 166, "PWRES and IWRES", rot=90)
put(49, 166, "for nefopam", rot=90)
put(497, 158, "PWRES and IWRES", rot=90)
put(523, 158, "for nefopam", rot=90)
put(24, 510, "PWRES and IWRES", rot=90)
put(49, 510, "for demethyl-nefopam", rot=90)
put(497, 505, "PWRES and IWRES", rot=90)
put(523, 505, "for demethyl-nefopam", rot=90)

put(284, 277, "Respective population")
put(284, 303, "or individual prediction (mg.l$^{-1}$)")
put(284, 617, "Respective population")
put(284, 643, "or individual prediction (mg.l$^{-1}$)")
put(755, 293, "Time (h)")
put(755, 634, "Time (h)")

fig.savefig("out.png", dpi=100, facecolor="white")
